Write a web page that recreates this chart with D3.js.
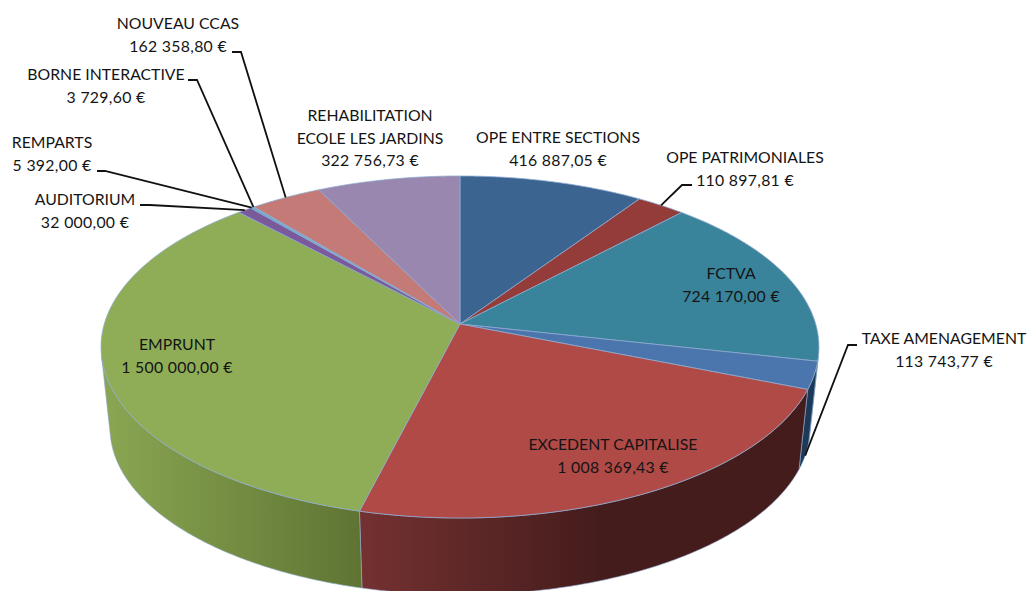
<!DOCTYPE html>
<html>
<head>
<meta charset="utf-8">
<script src="https://cdn.jsdelivr.net/npm/d3@7"></script>
<style>
	html, body { margin: 0; padding: 0; background: #fff; overflow: hidden; }
	svg { display: block; }
	text { font-family: Lato, "Open Sans", sans-serif; font-size: 15.8px; fill: #141414; text-anchor: middle; }
</style>
</head>
<body>
<div id="svg-container"></div>
<script>
	// values, clockwise from 12 o'clock
	var names = [
		['OPE ENTRE SECTIONS'],
		['OPE PATRIMONIALES'],
		['FCTVA'],
		['TAXE AMENAGEMENT'],
		['EXCEDENT CAPITALISE'],
		['EMPRUNT'],
		['AUDITORIUM'],
		['REMPARTS'],
		['BORNE INTERACTIVE'],
		['NOUVEAU CCAS'],
		['REHABILITATION', 'ECOLE LES JARDINS']
	];
	var values = [416887.05, 110897.81, 724170, 113743.77, 1008369.43, 1500000, 32000, 5392, 3729.60, 162358.80, 322756.73];

	var topColors  = ['#3b6491', '#933c3a', '#39839b', '#4a76ad', '#b04a47', '#8fad56', '#7a5a9b', '#4bacc6', '#6fb0c8', '#c47a76', '#9a87b0'];
	var wallColors = ['#1f3550', '#4f1f1e', '#1e4753', '#1c3a58', 'url(#wall-4)', 'url(#wall-5)', '#42305a', '#28606f', '#28606f', '#6c4240', '#534862'];

	// label centre x and first line y, then leader elbow points (if any)
	var labelPos = [
		{ x: 558, y: 143 },
		{ x: 745, y: 163, leader: [[692, 185], [682, 185]] },
		{ x: 731, y: 279 },
		{ x: 944, y: 344, leader: [[857, 345], [848, 345]], lower: true },
		{ x: 613, y: 450 },
		{ x: 177, y: 350 },
		{ x: 85, y: 205, leader: [[140, 205], [150, 205]] },
		{ x: 52, y: 148, leader: [[97, 171], [105, 171]] },
		{ x: 106, y: 80, leader: [[188, 80], [197, 80]] },
		{ x: 178, y: 29, leader: [[232, 52], [241, 52]] },
		{ x: 370, y: 121 }
	];

	var pageWidth = 1030;
	var pageHeight = 591;

	// perspective disc: centre maps to (cx, cy), circle becomes the ellipse in the picture
	var cx = 460, cy = 324, radius = 355.7, squash = 167.9, persp = 0.1345;
	// lower rim is the same ellipse, scaled and moved down
	var rimScale = 0.975, rimDrop = 81, ellipseY = 347;
	// walls only exist between the two tangent points, past those they fold behind the top
	var foldAngle = Math.acos(-0.186);

	function project(a, r) {
		var X = Math.sin(a) * r;
		var Y = -Math.cos(a) * r;
		var f = 1 / (1 - persp * Y);
		return [cx + radius * X * f, cy + squash * Y * f];
	}

	function projectLow(a) {
		var p = project(a, 1);
		return [cx + rimScale * (p[0] - cx), ellipseY + rimDrop + rimScale * (p[1] - ellipseY)];
	}

	function arcAngles(start, end) {
		var steps = Math.max(2, Math.ceil((end - start) / 0.01));
		return d3.range(steps + 1).map(function(i) {
			return start + (end - start) * i / steps;
		});
	}

	var pie = d3.pie().sort(null).value(function(d) { return d; });
	var slices = pie(values);
	var line = d3.line();

	var euro = d3.formatLocale({
		decimal: ',', thousands: '\u00a0', grouping: [3], currency: ['', '\u00a0€']
	}).format('$,.2f');

	var svg = d3.select('#svg-container')
		.append('svg')
		.attr('width', pageWidth)
		.attr('height', pageHeight);

	// wall shading runs left to right on screen
	var defs = svg.append('defs');
	function wallGradient(id, x1, x2, stops) {
		var g = defs.append('linearGradient')
			.attr('id', id)
			.attr('gradientUnits', 'userSpaceOnUse')
			.attr('x1', x1).attr('x2', x2).attr('y1', 0).attr('y2', 0);
		stops.forEach(function(s, i) {
			g.append('stop').attr('offset', i / (stops.length - 1)).attr('stop-color', s);
		});
	}
	wallGradient('wall-4', 360, 600, ['#743131', '#451c1c']);
	wallGradient('wall-5', 105, 360, ['#8aa652', '#5f7433']);

	var edge = '#8ea9cf';

	var frontSlices = slices.filter(function(d) {
		return d.endAngle > foldAngle && d.startAngle < 2 * Math.PI - foldAngle;
	});

	svg.append('g').selectAll('path')
		.data(frontSlices)
		.enter().append('path')
		.attr('d', function(d) {
			var angles = arcAngles(Math.max(d.startAngle, foldAngle), Math.min(d.endAngle, 2 * Math.PI - foldAngle));
			var upper = angles.map(function(a) { return project(a, 1); });
			var lower = angles.slice().reverse().map(projectLow);
			return line(upper.concat(lower)) + 'Z';
		})
		.attr('fill', function(d) { return wallColors[d.index]; })
		.attr('stroke', edge)
		.attr('stroke-width', 0.6);

	svg.append('g').selectAll('path')
		.data(slices)
		.enter().append('path')
		.attr('d', function(d) {
			var rim = arcAngles(d.startAngle, d.endAngle).map(function(a) { return project(a, 1); });
			return line([[cx, cy]].concat(rim)) + 'Z';
		})
		.attr('fill', function(d) { return topColors[d.index]; })
		.attr('stroke', edge)
		.attr('stroke-width', 0.8);

	// leaders
	svg.append('g').selectAll('path')
		.data(slices.filter(function(d) { return labelPos[d.index].leader; }))
		.enter().append('path')
		.attr('d', function(d) {
			var mid = (d.startAngle + d.endAngle) / 2;
			var pos = labelPos[d.index];
			var end = pos.lower ? projectLow(mid) : project(mid, 1);
			return line(pos.leader.concat([end]));
		})
		.attr('fill', 'none')
		.attr('stroke', '#111')
		.attr('stroke-width', 1.8);

	// labels
	var labels = svg.append('g').selectAll('text')
		.data(slices)
		.enter().append('text')
		.attr('x', function(d) { return labelPos[d.index].x; })
		.attr('y', function(d) { return labelPos[d.index].y; });

	labels.each(function(d) {
		var el = d3.select(this);
		var pos = labelPos[d.index];
		var lines = names[d.index].concat([euro(d.value)]);
		lines.forEach(function(t, i) {
			el.append('tspan')
				.attr('x', pos.x)
				.attr('y', pos.y + i * 22.7)
				.attr('letter-spacing', i === lines.length - 1 ? 0.3 : null)
				.text(t);
		});
	});
</script>
</body>
</html>
